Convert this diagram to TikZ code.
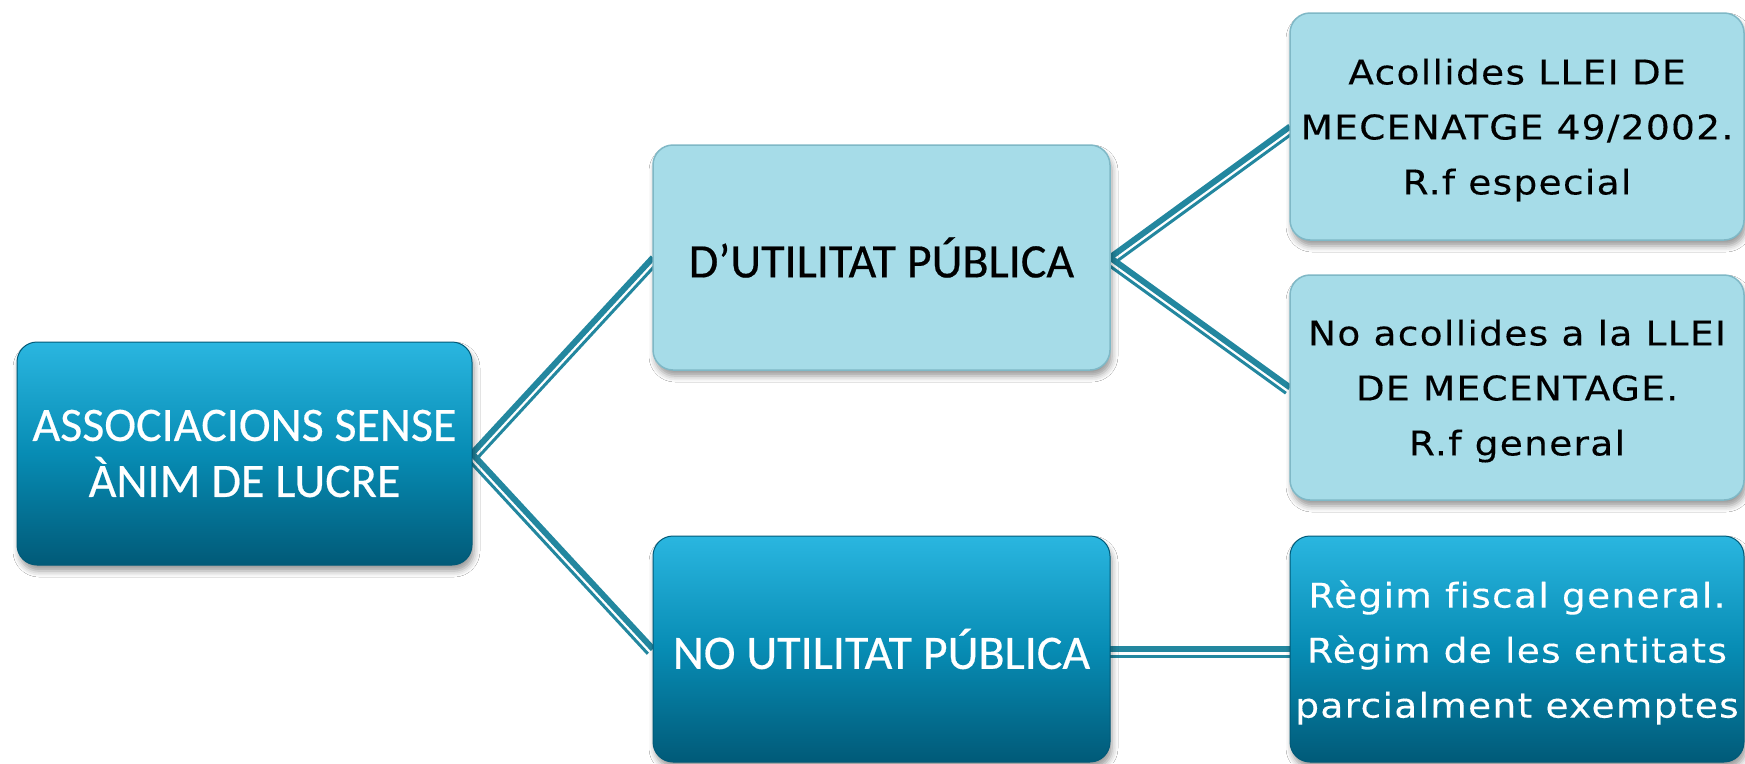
\documentclass[tikz,border=0pt]{standalone}
\usepackage{fontspec}
\setmainfont[FakeBold=0.4]{Carlito}
\newfontfamily\rfont[LetterSpace=4,FakeStretch=1.1,FakeBold=0.3,Ligatures=NoCommon]{DejaVu Sans}
\usetikzlibrary{calc,shadows.blur,backgrounds}
\definecolor{lightfill}{HTML}{A6DCE8}
\definecolor{lightedge}{HTML}{7FB8C6}
\definecolor{darktop}{HTML}{2AB6E0}
\definecolor{darkmid}{HTML}{078CB4}
\definecolor{darkbot}{HTML}{015A78}
\definecolor{linkcol}{HTML}{23879F}
\tikzset{
  box/.style={rounded corners=20pt, minimum width=455pt, minimum height=225pt,
    inner sep=0pt, outer sep=0pt, align=center,
    blur shadow={shadow xshift=2pt, shadow yshift=-6pt, shadow blur radius=6pt, shadow opacity=40}},
  lightbox/.style={box, fill=lightfill, draw=lightedge, line width=1.5pt, text=black},
  darkbox/.style={box, top color=darktop, bottom color=darkbot, middle color=darkmid,
    draw=darkbot, line width=1pt, text=white},
  bigtext/.style={font=\fontsize{48}{56}\selectfont},
  smalltext/.style={font=\rfont\fontsize{34}{55}\selectfont, text depth=0pt},
  thicklink/.style={draw=linkcol, line width=6pt},
  thinlink/.style={draw=linkcol, line width=3pt}
}
\newcommand{\dlink}[2]{%
  \draw[thicklink] (#1.east) -- (#2.west);
  \draw[thinlink] ($(#1.east)!7pt!-90:(#2.west)$) -- ($(#2.west)!7pt!90:(#1.east)$);
}
\begin{document}
\begin{tikzpicture}[x=1pt,y=-1pt]
\useasboundingbox (0,0) rectangle (1745,763);
\node[darkbox, bigtext, minimum width=455pt, minimum height=223pt] (A) at (244.5,453.5) {ASSOCIACIONS SENSE\\ÀNIM DE LUCRE};
\node[lightbox, bigtext, minimum width=457pt] (B) at (881.5,257.5) {D’UTILITAT PÚBLICA};
\node[darkbox, bigtext, minimum width=457pt, minimum height=226pt] (C) at (881.5,649) {NO UTILITAT PÚBLICA};
\node[lightbox, smalltext, minimum width=454pt, minimum height=227pt] (D) at (1517,126.5) {Acollides LLEI DE\\MECENATGE 49/2002.\\R.f especial};
\node[lightbox, smalltext, minimum width=454pt] (E) at (1517,387.5) {No acollides a la LLEI\\DE MECENTAGE.\\R.f general};
\node[darkbox, smalltext, minimum width=454pt, minimum height=226pt] (F) at (1517,649) {Règim fiscal general.\\Règim de les entitats\\parcialment exemptes};
\begin{scope}[on background layer]
  \fill[white] (0,0) rectangle (1745,763);
  \dlink{A}{B}
  \dlink{A}{C}
  \dlink{B}{D}
  \dlink{B}{E}
  \dlink{C}{F}
\end{scope}
\end{tikzpicture}
\end{document}
